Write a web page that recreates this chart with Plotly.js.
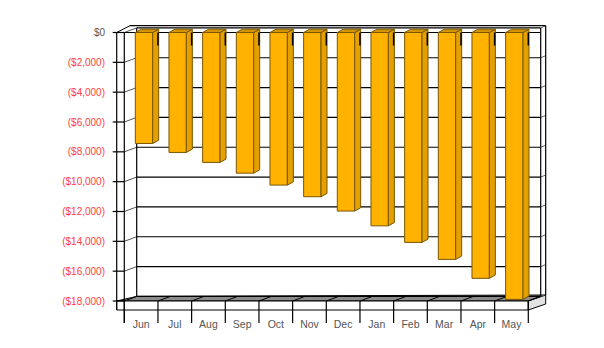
<!DOCTYPE html>
<html>
<head>
<meta charset="utf-8">
<script src="https://cdn.plot.ly/plotly-3.0.1.min.js"></script>
<style>html,body{margin:0;padding:0;background:#fff;}#chart{width:604px;height:348px;}</style>
</head>
<body>
<div id="chart"></div>
<script>
// ---- data ----
const months = ['Jun','Jul','Aug','Sep','Oct','Nov','Dec','Jan','Feb','Mar','Apr','May'];
const balance = [-7440, -8040, -8710, -9430, -10230, -11010, -11970, -12960, -14070, -15210, -16480, -17890];
const tickValues = [0, -2000, -4000, -6000, -8000, -10000, -12000, -14000, -16000, -18000];
const tickLabels = ['$0','($2,000)','($4,000)','($6,000)','($8,000)','($10,000)','($12,000)','($14,000)','($16,000)','($18,000)'];

// ---- geometry (pixel <-> data helpers) ----
const ML = 112, MR = 54, MT = 20, MB = 22;
const catPx = 33.667, firstCenterPx = 141.13;
const zeroPy = 32.5, pxPerUnit = 268.5 / 18000;
const U = px => (px - firstCenterPx) / catPx;            // px -> category units
const V = py => (zeroPy - py) / pxPerUnit;               // py -> value units
const du = px => px / catPx;                              // px length -> x units
const dv = px => px / pxPerUnit;                          // px length -> y units
const xr = [U(ML), U(604 - MR)];
const yr = [V(348 - MB), V(MT)];

const n = months.length;
const xs = months.map((m, i) => i);
const left = -0.5, right = n - 0.5;
const ymin = tickValues[tickValues.length - 1];
const DXu = du(12.4), DYv = dv(4.6);
const outerU = right + DXu + du(5);
const frontLeftU = U(116.7);

// bar geometry
const barOff = -0.173, barW = 0.516;
const bdx = du(6), bdy = dv(3.3);

const shapes = [];
function seg(x0, y0, x1, y1, color, width, layer) {
  shapes.push({type:'line', xref:'x', yref:'y', x0, y0, x1, y1,
    line:{color:color, width:width}, layer:layer || 'below'});
}
function poly(pts, fill, layer) {
  const d = pts.map((p, k) => (k ? 'L' : 'M') + p[0] + ',' + p[1]).join(' ') + ' Z';
  shapes.push({type:'path', xref:'x', yref:'y', path:d, fillcolor:fill,
    line:{color:'#000', width:1}, layer:layer || 'below'});
}

// floor (top, gray)
poly([[frontLeftU, ymin], [right, ymin], [outerU, ymin + dv(6)], [left + DXu, ymin + DYv]], '#8c8c8c');
// slab front face
poly([[frontLeftU, ymin], [right, ymin], [right, ymin - dv(9)], [frontLeftU, ymin - dv(9)]], '#ffffff');
// slab right side face
poly([[right, ymin], [right, ymin - dv(9)], [outerU, ymin - dv(3)], [outerU, ymin + dv(6)]], '#e2e2e2');

// back wall gridlines, stubs and tick connectors
tickValues.forEach(t => {
  seg(left + DXu, t + DYv, right + DXu, t + DYv, '#000', 1.2);
  seg(left, t, left + DXu, t + DYv, '#555', 1);
  seg(U(112.7), t, left, t, '#000', 1.2);
  seg(right + DXu, t + DYv, outerU, t + DYv + dv(2), '#666', 1);
});
// front zero line
seg(left, 0, right + DXu, 0, '#000', 1.2);
// verticals
seg(frontLeftU, 0, frontLeftU, ymin - dv(9), '#000', 1.2);
seg(left, 0, left, V(323), '#000', 1.2);
seg(left + DXu, DYv, left + DXu, ymin + DYv, '#000', 1.2);
seg(right + DXu, DYv, right + DXu, ymin + DYv, '#000', 1.2);
seg(outerU, V(25.7), outerU, ymin + dv(6), '#000', 1.2);
// top outer edge
seg(frontLeftU, 0, U(130), V(25.7), '#000', 1);
seg(U(130), V(25.7), outerU, V(25.7), '#000', 1.2);
// category boundaries: floor diagonals, bottom ticks, short top marks
for (let k = 0; k <= n; k++) {
  const b = left + k;
  seg(b, ymin, b + DXu, ymin + DYv, '#000', 1);
  seg(b, ymin, b, V(323), '#000', 1.2);
  if (k > 0) seg(b, 0, b, -dv(13), '#000', 1.5, 'above');
}

// side and top faces of bars, computed from the values
const sideX = [], sideY = [], topX = [], topY = [];
balance.forEach((v, i) => {
  const x0 = i + barOff, x1 = i + barOff + barW;
  sideX.push(x1, x1 + bdx, x1 + bdx, x1, x1, null);
  sideY.push(0, bdy, v + bdy, v, 0, null);
  topX.push(x0, x0 + bdx, x1 + bdx, x1, x0, null);
  topY.push(0, bdy, bdy, 0, 0, null);
});

const traces = [
  {type:'bar', x:xs, y:balance, width:barW, offset:barOff,
   marker:{color:'#FFB300', line:{color:'#7a5600', width:1}}, hoverinfo:'skip'},
  {type:'scatter', mode:'lines', x:sideX, y:sideY, fill:'toself', fillcolor:'#E3A000',
   line:{color:'#7a5600', width:1}, hoverinfo:'skip'},
  {type:'scatter', mode:'lines', x:topX, y:topY, fill:'toself', fillcolor:'#D39400',
   line:{color:'#7a5600', width:1}, hoverinfo:'skip'}
];

const ticktext = tickLabels.map((s, k) =>
  '<span style="color:' + (tickValues[k] < 0 ? '#FF4040' : '#555555') + '">' + s + '</span>');

const layout = {
  width:604, height:348, showlegend:false,
  margin:{l:ML, r:MR, t:MT, b:MB, pad:0},
  paper_bgcolor:'#ffffff', plot_bgcolor:'rgba(0,0,0,0)',
  font:{family:'"Liberation Sans", Arial, sans-serif', size:10, color:'#555555'},
  xaxis:{range:xr, tickmode:'array', tickvals:xs, ticktext:months, ticks:'',
    showgrid:false, zeroline:false, showline:false, ticklabelstandoff:-10,
    tickfont:{size:10.5, color:'#555555'}, fixedrange:true},
  yaxis:{range:yr, tickmode:'array', tickvals:tickValues, ticktext:ticktext, ticks:'',
    showgrid:false, zeroline:false, showline:false, ticklabelstandoff:6,
    tickfont:{size:10, color:'#555555'}, fixedrange:true},
  shapes:shapes
};

Plotly.newPlot('chart', traces, layout, {displayModeBar:false, staticPlot:true});
</script>
</body>
</html>
